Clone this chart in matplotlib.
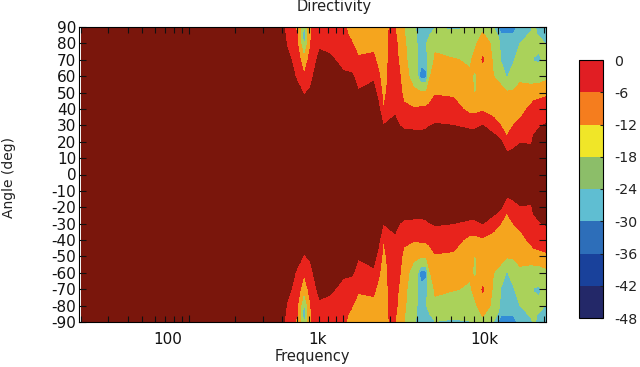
import numpy as np
import matplotlib
matplotlib.use("Agg")
import matplotlib.pyplot as plt
from matplotlib.colors import BoundaryNorm, ListedColormap
from matplotlib.cm import ScalarMappable
from matplotlib.ticker import NullFormatter
from matplotlib.transforms import ScaledTranslation

# values, upper half only (lower half is its mirror)
angles_top = [0, 10, 20, 30, 40, 50, 60, 70, 80, 85, 90]
freqs = [20, 388, 433, 486, 505, 525, 556, 590, 610, 638, 705, 819, 999, 1131, 1249,
         1563, 1683, 1814, 1983, 2158, 2300, 2469, 2837, 3050, 3150, 3294, 3450, 3600,
         3920, 5150, 6607, 7080, 7980, 9354, 10400, 11400, 12600, 13930, 16400, 16990,
         18500, 20500]
db_by_freq = [
    [0, 0, 0, 0, 0, 0, 0, 0, 0, 0, 0],
    [0, 0, 0, 0, 0, 0, 0, 0, 0, -0.5, -1],
    [0, 0, 0, 0, 0, 0, -1, -2, -3.5, -4, -4.5],
    [0, 0, 0, 0, -1, -1.8, -3, -4, -5, -5.5, -6],
    [0, 0, 0, 0, -1, -2.2, -3.5, -5, -6, -6, -6.2],
    [0, 0, 0, 0, -1, -2.5, -4, -6, -9, -11, -12],
    [0, 0, 0, -0.5, -1.5, -3.3, -5.5, -10, -27, -32, -26],
    [0, 0, 0, 0, -1.2, -2.8, -4.5, -6, -9, -11, -11.5],
    [0, 0, 0, 0, -1, -2.5, -4.2, -5.5, -6.2, -6.5, -6.5],
    [0, 0, 0, 0, -0.5, -1, -3, -4, -5, -5, -5.5],
    [0, 0, 0, 0, 0, -0.5, -1, -2, -3.6, -4.5, -5],
    [0, 0, 0, 0, 0, -0.5, -1, -2.5, -4, -4.5, -5],
    [0, 0, 0, 0, 0, -1, -2.5, -4, -5, -5.3, -5.5],
    [0, 0, 0, 0, -0.5, -1.5, -2.6, -4.5, -5.8, -6.5, -7],
    [0, 0, 0, -0.5, -1.5, -2.8, -4, -5.5, -7.5, -8, -8.5],
    [0, 0, 0, -0.5, -1, -2, -3.5, -5.2, -7, -8, -8.5],
    [0, 0, 0, -1, -2.3, -3.8, -5.3, -7, -8, -8.5, -9],
    [0, 0, -1, -3, -6, -7, -8, -8.5, -9, -9, -9],
    [0, 0, -1, -2.5, -4, -5, -5.2, -5.3, -5.5, -5.5, -6],
    [0, 0, -1, -2.3, -3.5, -4, -4.2, -4.5, -5, -5.5, -6],
    [0, 0, -1.2, -3, -4.5, -5, -5.5, -6.5, -7, -7.5, -8],
    [0, 0, -1.5, -3.5, -5.3, -7, -8, -9, -10, -11, -12],
    [0, 0, -1.5, -3.6, -5.6, -10, -16, -19, -21, -22, -23],
    [0, 0, -1.5, -3.6, -5.5, -10, -24.5, -24.5, -25, -25, -25.5],
    [0, 0, -1.5, -3.6, -5.3, -11, -33, -27, -24.5, -25, -25.5],
    [0, 0, -1.5, -3.6, -5.2, -11, -33, -27, -24.5, -25, -26],
    [0, 0, -1.5, -3.4, -5, -11, -32, -26, -24, -25, -26],
    [0, 0, -1.5, -3.1, -4.8, -8.5, -13, -20, -21, -24.5, -25],
    [0, 0, -1.5, -2.8, -4.5, -6.3, -8, -10.5, -14, -18, -24.5],
    [0, 0, -1.5, -3, -4.8, -6.5, -9, -11.5, -17, -22, -25],
    [0, 0, -1.5, -3.5, -7, -9.5, -11, -13, -17, -20, -24.5],
    [0, 0, -1.5, -3.5, -7, -12.5, -13, -10, -13.5, -16, -22],
    [0, 0, -1.5, -3, -6.5, -9, -9, -5.5, -8, -11, -14],
    [0, 0, -1.5, -4.5, -7.5, -10, -12, -13, -14, -17, -24],
    [0, -0.5, -2.5, -6, -8, -10, -14, -24.5, -25, -29, -33],
    [0, -1.5, -5.5, -7, -9, -11, -25, -26, -26, -29, -33],
    [0, -1.2, -4.5, -6, -8, -10.5, -20, -25, -25, -29, -33],
    [0, -1, -3.2, -5, -7.5, -10.5, -13, -18, -24, -26, -27],
    [0, -1.5, -3.3, -3.5, -5, -9, -15, -22, -20, -23, -25],
    [0, -1.5, -2.7, -3.5, -4.5, -7.5, -16, -24.5, -21, -23, -23.5],
    [0, -1.2, -2, -3.2, -4.5, -7, -16, -26, -21, -24.5, -25],
    [0, -1, -1.5, -2.8, -4.5, -6.5, -14, -20, -24.5, -26, -26],
]

# contour bands as they appear in the plot
plot_levels = [-48, -30, -24, -12, -6, -3, 1]
plot_colors = ["#328cd7", "#64bec8", "#aad25a", "#f5a51e", "#e8231c", "#7a160c"]

# colorbar bands, these do not quite match the plot colours in the original
bar_levels = [-48, -42, -36, -30, -24, -18, -12, -6, 0]
bar_colors = ["#232868", "#19419b", "#2d6eb9", "#5fbed2", "#8cbe69", "#f0e628", "#f57d1e", "#e11e23"]

xtick_vals = [100, 1000, 10000]
xtick_labels = ["100", "1k", "10k"]
xtick_shift_px = [-21, -26, -13]
ytick_vals = list(range(-90, 91, 10))

top = np.array(db_by_freq)
angles = np.concatenate([-np.array(angles_top[:0:-1]), angles_top])
db = np.hstack([top[:, :0:-1], top])

W, H = 640, 367
fig = plt.figure(figsize=(W / 100, H / 100), dpi=100)
ax = fig.add_axes([79 / W, 1 - 322 / H, (546 - 79) / W, (322 - 27) / H])
ax.contourf(freqs, angles, db.T, levels=plot_levels, colors=plot_colors)
ax.set_xscale("log")
ax.set_xlim(19.4, 20500)
ax.set_ylim(-90, 90)
ax.set_yticks(ytick_vals, [str(v) for v in ytick_vals])
ax.set_xticks(xtick_vals, xtick_labels)
ax.tick_params(which="both", direction="in", top=True, right=True, labelsize=11, length=5, width=0.8, colors="#111111")
ax.tick_params(axis="x", which="minor", length=4)
ax.tick_params(axis="x", which="major", pad=7)
ax.tick_params(axis="y", pad=2)
ax.xaxis.set_minor_formatter(NullFormatter())
for lab, dx in zip(ax.get_xticklabels(), xtick_shift_px):
    lab.set_transform(lab.get_transform() + ScaledTranslation(dx / 100, 0, fig.dpi_scale_trans))

fig.text(334 / W, 1 - 7 / H, "Directivity", ha="center", va="center", fontsize=10.5, color="#222222")
fig.text(312 / W, 1 - 357 / H, "Frequency", ha="center", va="center", fontsize=10.5, color="#222222")
fig.text(9 / W, 1 - 177 / H, "Angle (deg)", ha="center", va="center", rotation=90, fontsize=10, color="#222222")

cax = fig.add_axes([579 / W, 1 - 318 / H, 24 / W, (318 - 60) / H])
sm = ScalarMappable(norm=BoundaryNorm(bar_levels, len(bar_colors)), cmap=ListedColormap(bar_colors))
cb = fig.colorbar(sm, cax=cax, ticks=bar_levels, spacing="proportional")
cb.ax.set_yticklabels([str(v) for v in bar_levels])
cb.ax.tick_params(labelsize=10.2, length=2, direction="in", pad=8, colors="#222222")
cb.outline.set_linewidth(0.8)

fig.savefig("out.png", dpi=100)
